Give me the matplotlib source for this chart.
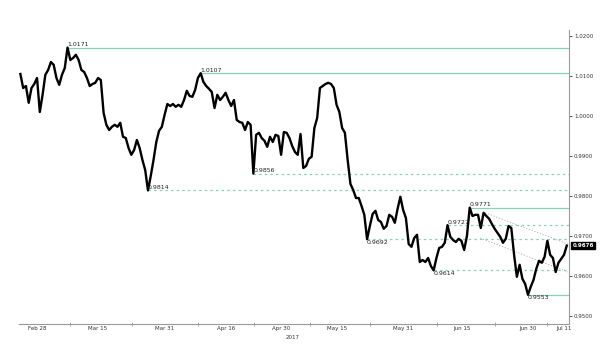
import numpy as np
import matplotlib
matplotlib.use('Agg')
import matplotlib.pyplot as plt
import matplotlib.transforms as mtransforms

# USD/CHF style daily chart, 2 samples per trading day, day 0 = Feb 23 2017
price = [
    1.0105, 1.0070, 1.0075, 1.0033, 1.0070, 1.0080, 1.0095, 1.0010, 1.0053, 1.0103,
    1.0115, 1.0135, 1.0128, 1.0095, 1.0078, 1.0103, 1.0120, 1.0171, 1.0140, 1.0145,
    1.0153, 1.0140, 1.0115, 1.0110, 1.0095, 1.0075, 1.0080, 1.0083, 1.0095, 1.0090,
    1.0008, 0.9978, 0.9965, 0.9973, 0.9978, 0.9973, 0.9983, 0.9948, 0.9945, 0.9920,
    0.9903, 0.9915, 0.9940, 0.9920, 0.9890, 0.9865, 0.9814, 0.9850, 0.9890, 0.9935,
    0.9963, 0.9973, 1.0003, 1.0030, 1.0025, 1.0030, 1.0023, 1.0028, 1.0023, 1.0040,
    1.0063, 1.0050, 1.0048, 1.0065, 1.0095, 1.0107, 1.0085, 1.0075, 1.0068, 1.0060,
    1.0020, 1.0053, 1.0040, 1.0048, 1.0058, 1.0040, 1.0025, 1.0040, 0.9990, 0.9985,
    0.9983, 0.9965, 0.9985, 0.9978, 0.9856, 0.9953, 0.9958, 0.9945, 0.9938, 0.9923,
    0.9948, 0.9935, 0.9953, 0.9950, 0.9903, 0.9960, 0.9958, 0.9945, 0.9925, 0.9910,
    0.9903, 0.9955, 0.9870, 0.9875, 0.9893, 0.9898, 0.9970, 0.9995, 1.0070, 1.0075,
    1.0080, 1.0083, 1.0080, 1.0070, 1.0028, 1.0010, 0.9970, 0.9958, 0.9890, 0.9830,
    0.9815, 0.9795, 0.9795, 0.9775, 0.9753, 0.9692, 0.9725, 0.9755, 0.9763, 0.9740,
    0.9735, 0.9718, 0.9725, 0.9753, 0.9748, 0.9733, 0.9768, 0.9798, 0.9765, 0.9745,
    0.9680, 0.9673, 0.9695, 0.9703, 0.9635, 0.9640, 0.9635, 0.9645, 0.9625, 0.9614,
    0.9645, 0.9670, 0.9673, 0.9683, 0.9727, 0.9698, 0.9690, 0.9685, 0.9693, 0.9688,
    0.9665, 0.9700, 0.9771, 0.9750, 0.9753, 0.9753, 0.9720, 0.9758, 0.9750, 0.9743,
    0.9730, 0.9718, 0.9708, 0.9698, 0.9683, 0.9693, 0.9725, 0.9720, 0.9653, 0.9598,
    0.9628, 0.9593, 0.9580, 0.9553, 0.9573, 0.9590, 0.9618, 0.9638, 0.9633, 0.9648,
    0.9688, 0.9653, 0.9645, 0.9610, 0.9633, 0.9643, 0.9653, 0.9676,
]
days = np.arange(len(price)) * 0.5

# support / resistance levels: value, day where it starts, style, label side
level_vals = [1.0171, 1.0107, 0.9856, 0.9814, 0.9771, 0.9727, 0.9692, 0.9614, 0.9553]
level_start = [8.5, 32.5, 42.0, 23.0, 81.0, 77.0, 62.5, 74.5, 91.5]
level_dashed = [False, False, True, True, False, True, True, True, False]
level_above = [True, True, True, True, True, True, False, False, False]

# grey dotted trend channel
trend_up_x = [83.8, 98.7]
trend_up_y = [0.9758, 0.9680]
trend_lo_x = [82.9, 98.7]
trend_lo_y = [0.9695, 0.9610]

date_pos = [3, 14, 26, 37, 47, 57, 69, 79.6, 91.5, 98]
date_lbl = ['Feb 28', 'Mar 15', 'Mar 31', 'Apr 16', 'Apr 30', 'May 15',
            'May 31', 'Jun 15', 'Jun 30', 'Jul 11']
minor_pos = [9.0, 20.1, 32.0, 42.1, 52.2, 63.0, 75.1, 85.6, 94.9]
y_ticks = [0.95, 0.96, 0.97, 0.98, 0.99, 1.00, 1.01, 1.02]
last_price = 0.9676

green = '#86d3b3'
axis_grey = '#9a9a9a'

fig = plt.figure(figsize=(6, 3.52), dpi=100)
ax = fig.add_axes([19/600, 1-324/352, 550/600, 294/352])

for v, s, dsh, above in zip(level_vals, level_start, level_dashed, level_above):
    ax.plot([s, 99.5], [v, v], color=green, lw=0.9,
            ls=(0, (2, 2.5)) if dsh else '-', zorder=1)
    ax.text(s, v + (0.00005 if above else -0.0001), '{:.4f}'.format(v),
            fontsize=4.5, ha='left', va='bottom' if above else 'top',
            color='#222222', zorder=4)

ax.plot(trend_up_x, trend_up_y, color='#aaaaaa', lw=0.6, ls=(0, (1.5, 2)), zorder=1)
ax.plot(trend_lo_x, trend_lo_y, color='#aaaaaa', lw=0.6, ls=(0, (1.5, 2)), zorder=1)

ax.plot(days, price, color='black', lw=1.7, zorder=3)

ax.set_xlim(-0.25, 98.9)
ax.set_ylim(0.948, 1.0215)

for sp in ['top', 'left']:
    ax.spines[sp].set_visible(False)
for sp in ['bottom', 'right']:
    ax.spines[sp].set_color(axis_grey)
    ax.spines[sp].set_linewidth(0.8)

ax.yaxis.tick_right()
ax.set_yticks(y_ticks)
ax.set_yticklabels(['{:.4f}'.format(t) for t in y_ticks])
ax.tick_params(axis='y', which='major', length=2, width=0.6, pad=1.5,
               labelsize=4, colors='#333333')

ax.set_xticks(date_pos)
ax.set_xticklabels(date_lbl)
ax.set_xticks(minor_pos, minor=True)
ax.tick_params(axis='x', which='major', length=0, pad=1.5, labelsize=4,
               colors='#333333')
ax.tick_params(axis='x', which='minor', length=3, width=0.6, direction='inout',
               colors=axis_grey)

trans = mtransforms.blended_transform_factory(ax.transData, ax.transAxes)
ax.text(49.1, -0.045, '2017', transform=trans, fontsize=4, ha='center',
        va='center', color='#333333')

trans_y = mtransforms.blended_transform_factory(ax.transAxes, ax.transData)
ax.text(1.006, last_price, '{:.4f}'.format(last_price), transform=trans_y,
        fontsize=4, ha='left', va='center', color='white', fontweight='bold',
        bbox=dict(boxstyle='square,pad=0.25', fc='black', ec='black'),
        zorder=5, clip_on=False)

fig.savefig('out.png', dpi=100)
